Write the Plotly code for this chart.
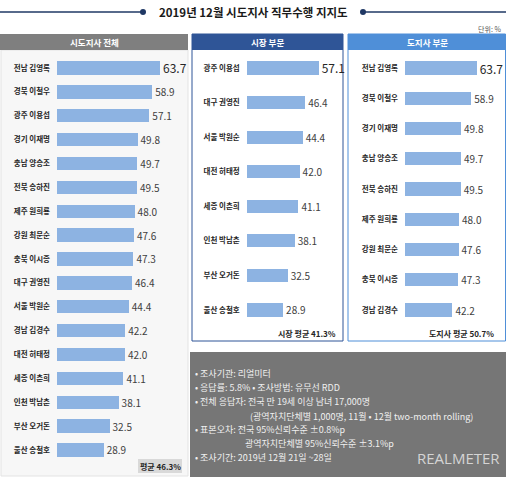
import plotly.graph_objects as go

W, H = 506, 477
FONT = "Noto Sans CJK KR"

# ---- data ----
all_names = ["전남 김영록", "경북 이철우", "광주 이용섭", "경기 이재명", "충남 양승조", "전북 송하진",
             "제주 원희룡", "강원 최문순", "충북 이시종", "대구 권영진", "서울 박원순", "경남 김경수",
             "대전 허태정", "세종 이춘희", "인천 박남춘", "부산 오거돈", "울산 송철호"]
all_values = [63.7, 58.9, 57.1, 49.8, 49.7, 49.5, 48.0, 47.6, 47.3, 46.4, 44.4, 42.2,
              42.0, 41.1, 38.1, 32.5, 28.9]
mayor_names = ["광주 이용섭", "대구 권영진", "서울 박원순", "대전 허태정", "세종 이춘희",
               "인천 박남춘", "부산 오거돈", "울산 송철호"]
mayor_values = [57.1, 46.4, 44.4, 42.0, 41.1, 38.1, 32.5, 28.9]
gov_names = ["전남 김영록", "경북 이철우", "경기 이재명", "충남 양승조", "전북 송하진",
             "제주 원희룡", "강원 최문순", "충북 이시종", "경남 김경수"]
gov_values = [63.7, 58.9, 49.8, 49.7, 49.5, 48.0, 47.6, 47.3, 42.2]

title_text = "2019년 12월 시도지사 직무수행 지지도"
panel_titles = ["시도지사 전체", "시장 부문", "도지사 부문"]
avg_texts = ["평균 46.3%", "시장 평균 41.3%", "도지사 평균 50.7%"]
info_lines = [
    "• 조사기관: 리얼미터",
    "• 응답률: 5.8% • 조사방법: 유무선 RDD",
    "• 전체 응답자: 전국 만 19세 이상 남녀 17,000명",
    "(광역자치단체별 1,000명, 11월 • 12월 two-month rolling)",
    "• 표본오차: 전국 95%신뢰수준 ±0.8%p",
    "광역자치단체별 95%신뢰수준 ±3.1%p",
    "• 조사기간: 2019년 12월 21일 ~28일",
]

BAR = "#8db3e2"
NAVY = "#1f3864"
GRAY_H = "#7f7f7f"
BLUE_D = "#2f5597"
BLUE_L = "#4f8fd8"


def px(x):
    return x / W


def py(y):
    return 1 - y / H


fig = go.Figure()

panels = [
    # names, values, axis suffix, bar start px, px per unit, range max, first row y, last row y, bar width
    (all_names, all_values, "", 57, 1.617, 80, 68, 450, 0.56),
    (mayor_names, mayor_values, "2", 246.7, 1.26, 75, 68, 310, 0.38),
    (gov_names, gov_values, "3", 405, 1.125, 88, 68, 310, 0.43),
]

for names, vals, sfx, x0, scale, rmax, ytop, ybot, bw in panels:
    n = len(names)
    step = (ybot - ytop) / (n - 1)
    sizes = [12] + [10] * (n - 1)
    colors = ["#262626"] + ["#404040"] * (n - 1)
    fig.add_trace(go.Bar(
        x=vals, y=names, orientation="h",
        xaxis="x" + sfx, yaxis="y" + sfx,
        marker=dict(color=BAR, line=dict(width=0)),
        width=bw,
        text=[f"{v:.1f}" for v in vals],
        textposition="outside",
        textfont=dict(size=sizes, color=colors, family=FONT),
        cliponaxis=False, constraintext="none",
        hoverinfo="skip", showlegend=False,
    ))
    xa = dict(domain=[px(x0), px(x0 + scale * rmax)], range=[0, rmax],
              visible=False, fixedrange=True,
              anchor="y" + sfx)
    ya = dict(domain=[py(ybot + step / 2), py(ytop - step / 2)],
              type="category", categoryorder="array", categoryarray=names,
              range=[n - 0.5, -0.5], showgrid=False, zeroline=False, showline=False,
              ticks="", ticklabelstandoff=6,
              tickfont=dict(size=7.5, color="#262626", family=FONT, weight="bold"),
              anchor="x" + sfx, fixedrange=True)
    fig.update_layout(**{"xaxis" + sfx: xa, "yaxis" + sfx: ya})

shapes = []
ann = []


def rect(x0, y0, x1, y1, fill, line=None, lw=1):
    shapes.append(dict(type="rect", xref="paper", yref="paper",
                       x0=px(x0), x1=px(x1), y0=py(y1), y1=py(y0),
                       fillcolor=fill, line=dict(color=line or fill, width=lw if line else 0),
                       layer="below"))


# title lines with dots
shapes.append(dict(type="line", xref="paper", yref="paper", x0=0, x1=px(143), y0=py(12), y1=py(12),
                   line=dict(color=NAVY, width=1.5)))
shapes.append(dict(type="line", xref="paper", yref="paper", x0=px(363), x1=1, y0=py(12), y1=py(12),
                   line=dict(color=NAVY, width=1.5)))
for cx in (143, 363):
    shapes.append(dict(type="circle", xref="paper", yref="paper",
                       x0=px(cx - 3), x1=px(cx + 3), y0=py(15), y1=py(9),
                       fillcolor=NAVY, line=dict(color=NAVY, width=0)))

# panels
rect(1, 50, 188, 476, "#f7f7f7", "#e3e3e3", 1)
rect(0, 34, 188, 50, GRAY_H)
rect(192, 34, 343, 341, "#ffffff", BLUE_D, 1)
rect(192, 34, 343, 50, BLUE_D)
rect(348, 34, 505.5, 341, "#ffffff", BLUE_L, 1)
rect(348, 34, 505.5, 50, BLUE_L)
rect(190, 352, 506, 477, "#767676")
rect(138, 459, 182, 473, "#d9d9d9")


def text(x, y, s, size, color="#262626", anchor="center", bold=False, family=FONT):
    ann.append(dict(xref="paper", yref="paper", x=px(x), y=py(y), text=s, showarrow=False,
                    xanchor=anchor, yanchor="middle",
                    font=dict(size=size, color=color, family=family, weight="bold" if bold else "normal")))


text(253, 12, title_text, 11.5, "#1a1a1a", bold=True)
text(503, 29, "단위: %", 7, "#595959", anchor="right")
text(94, 42, panel_titles[0], 8.5, "#ffffff", bold=True)
text(267.5, 42, panel_titles[1], 8.5, "#ffffff", bold=True)
text(427, 42, panel_titles[2], 8.5, "#ffffff", bold=True)
text(160, 466, avg_texts[0], 8, "#262626", bold=True)
text(338, 333, avg_texts[1], 8, "#262626", anchor="right", bold=True)
text(496, 333, avg_texts[2], 8, "#262626", anchor="right", bold=True)

info_y = [373, 387, 401, 416, 429, 443, 457]
info_x = [193, 193, 193, 248, 193, 243, 193]
for s, x, y in zip(info_lines, info_x, info_y):
    text(x, y, s, 9, "#f0f0f0", anchor="left")

text(502, 458, "REALMETER", 15, "#d4d4d4", anchor="right", family="Open Sans")

fig.update_layout(width=W, height=H, margin=dict(l=0, r=0, t=0, b=0),
                  paper_bgcolor="#ffffff", plot_bgcolor="rgba(0,0,0,0)",
                  shapes=shapes, annotations=ann, bargap=0,
                  font=dict(family=FONT))

fig.write_html("out.html",
               config={"displayModeBar": False, "staticPlot": True},
               post_script="document.body.style.margin='0';document.body.style.overflow='hidden';")
